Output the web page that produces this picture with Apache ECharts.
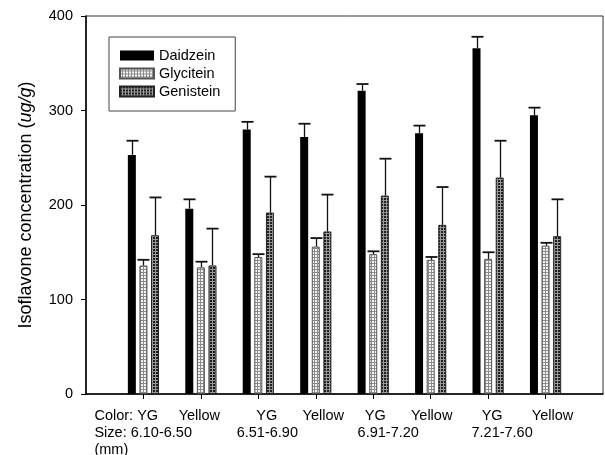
<!DOCTYPE html>
<html><head><meta charset="utf-8">
<script src="https://cdn.jsdelivr.net/npm/echarts@6/dist/echarts.min.js"></script>
<style>html,body{margin:0;padding:0;background:#fff}#c{width:605px;height:455px}</style>
</head><body><div id="c"></div>
<script>
// ---- data ----
const categories = ['YG 6.10-6.50','Yellow 6.10-6.50','YG 6.51-6.90','Yellow 6.51-6.90','YG 6.91-7.20','Yellow 6.91-7.20','YG 7.21-7.60','Yellow 7.21-7.60'];
const colorLabels = ['Color: YG','Yellow','YG','Yellow','YG','Yellow','YG','Yellow'];
const sizeLabels = ['Size: 6.10-6.50','6.51-6.90','6.91-7.20','7.21-7.60'];
const unitLabel = '(mm)';
const seriesNames = ['Daidzein','Glycitein','Genistein'];
const daidzein = [253,196,280,272,321,276,366,295];
const daidzeinErr = [15,10,8,14,7,8,12,8];
const glycitein = [136,134,145,156,148,142,143,157];
const glyciteinErr = [6,6,3,9,3,3,7,3];
const genistein = [168,136,192,172,210,179,229,167];
const genisteinErr = [40,39,38,39,39,40,39,39];
const yTicks = [0,100,200,300,400];
const yTitle = 'Isoflavone concentration ({i|ug/g})';

// ---- layout / style (not data) ----
const FONT = 'Arial, "Liberation Sans", sans-serif';
const LBL = 14.5;
const colorLabelOffsets = [[-49,'left'],[-1.5,'center'],[8.5,'center'],[7.5,'center'],[2,'center'],[1,'center'],[4,'center'],[7,'center']];
const sizeLabelPlace = [[0,-49,'left'],[2,9,'center'],[4,15,'center'],[6,14,'center']];

function pattern(bg, fg, size, cells){
  const c = document.createElement('canvas'); c.width = size; c.height = size;
  const g = c.getContext('2d'); g.fillStyle = bg; g.fillRect(0,0,size,size);
  g.fillStyle = fg; cells.forEach(p => g.fillRect(p[0],p[1],1,1));
  return {image: c, repeat: 'repeat'};
}
const glyPat = pattern('#8c8c8c', '#f4f4f4', 3, [[0,0],[1,0],[0,1],[1,1]]);
const genPat = pattern('#1e1e1e', '#9a9a9a', 3, [[2,0],[2,1],[0,2],[1,2],[2,2]]);

const chart = echarts.init(document.getElementById('c'), null, {renderer:'canvas'});
const axisData = [' '].concat(categories, ['  ']);
const pad = arr => ['-'].concat(arr, ['-']);

function errSeries(name, vals, errs, off){
  return {
    type: 'custom', name: name + ' SD', z: 5, silent: true,
    encode: {x: 0, y: [1,2]},
    data: vals.map((v,i) => [i+1, v, v+errs[i]]),
    renderItem(params, api){
      const b = api.coord([api.value(0), api.value(1)]);
      const t = api.coord([api.value(0), api.value(2)]);
      const cx = Math.round(b[0] + off) + 0.5;
      return {type:'group', children:[
        {type:'line', shape:{x1:cx, y1:b[1], x2:cx, y2:t[1]}, style:{stroke:'#111', lineWidth:1.3}},
        {type:'line', shape:{x1:cx-6, y1:t[1], x2:cx+6, y2:t[1]}, style:{stroke:'#111', lineWidth:1.8}}
      ]};
    }
  };
}

const option = {
  animation: false,
  textStyle: {fontFamily: FONT, color: '#000'},
  grid: {left: 86, right: 2, top: 16, bottom: 61, containLabel: false, show: true, borderColor: '#333', borderWidth: 1},
  legend: {
    data: seriesNames, orient: 'vertical', left: 109, top: 37,
    itemWidth: 34, itemHeight: 10, itemGap: 3, itemTextGap: 8,
    padding: [11, 15, 12, 10], borderColor: '#444', borderWidth: 1,
    textStyle: {fontSize: LBL, color: '#000', fontFamily: FONT}, icon: 'rect'
  },
  xAxis: {
    type: 'category', data: axisData, boundaryGap: false,
    axisLine: {lineStyle: {color: '#000', width: 1.5}},
    axisTick: {show: true, length: 5, interval: (i) => i > 0 && i < axisData.length - 1, lineStyle: {color: '#000'}},
    axisLabel: {show: false}, splitLine: {show: false}
  },
  yAxis: {
    type: 'value', min: yTicks[0], max: yTicks[yTicks.length-1], interval: yTicks[1]-yTicks[0],
    axisLine: {show: true, lineStyle: {color: '#000', width: 1.5}},
    axisTick: {show: true, length: 5, lineStyle: {color: '#000'}},
    axisLabel: {fontSize: LBL, color: '#000', margin: 13, fontFamily: FONT},
    splitLine: {show: false},
    name: yTitle, nameLocation: 'middle', nameRotate: 90, nameGap: 51,
    nameTextStyle: {fontSize: 18, color: '#000', fontFamily: FONT, rich: {i: {fontStyle: 'italic', fontSize: 18, fontFamily: FONT, color: '#000'}}}
  },
  series: [
    {type: 'bar', name: seriesNames[0], data: pad(daidzein), barWidth: 8, barGap: '45%', itemStyle: {color: '#000'}},
    {type: 'bar', name: seriesNames[1], data: pad(glycitein), barWidth: 8, barGap: '45%', itemStyle: {color: glyPat, borderColor: '#555', borderWidth: 1}},
    {type: 'bar', name: seriesNames[2], data: pad(genistein), barWidth: 8, barGap: '45%', itemStyle: {color: genPat, borderColor: '#222', borderWidth: 1}},
    errSeries(seriesNames[0], daidzein, daidzeinErr, -11.5),
    errSeries(seriesNames[1], glycitein, glyciteinErr, 0),
    errSeries(seriesNames[2], genistein, genisteinErr, 11.5)
  ]
};
chart.setOption(option);

// x-axis text placed relative to the category positions computed by the axis
const txt = [];
const px = i => chart.convertToPixel({xAxisIndex: 0}, i + 1);
colorLabels.forEach((s, i) => {
  const o = colorLabelOffsets[i];
  txt.push({type:'text', x: px(i) + o[0], y: 416, style:{text: s, fill:'#000', font: LBL + 'px ' + FONT, align: o[1], verticalAlign: 'middle'}});
});
sizeLabels.forEach((s, k) => {
  const o = sizeLabelPlace[k];
  txt.push({type:'text', x: px(o[0]) + o[1], y: 433, style:{text: s, fill:'#000', font: LBL + 'px ' + FONT, align: o[2], verticalAlign: 'middle'}});
});
txt.push({type:'text', x: px(0) - 49, y: 450, style:{text: unitLabel, fill:'#000', font: LBL + 'px ' + FONT, align: 'left', verticalAlign: 'middle'}});
chart.setOption({graphic: {elements: txt}});
</script>
</body></html>
